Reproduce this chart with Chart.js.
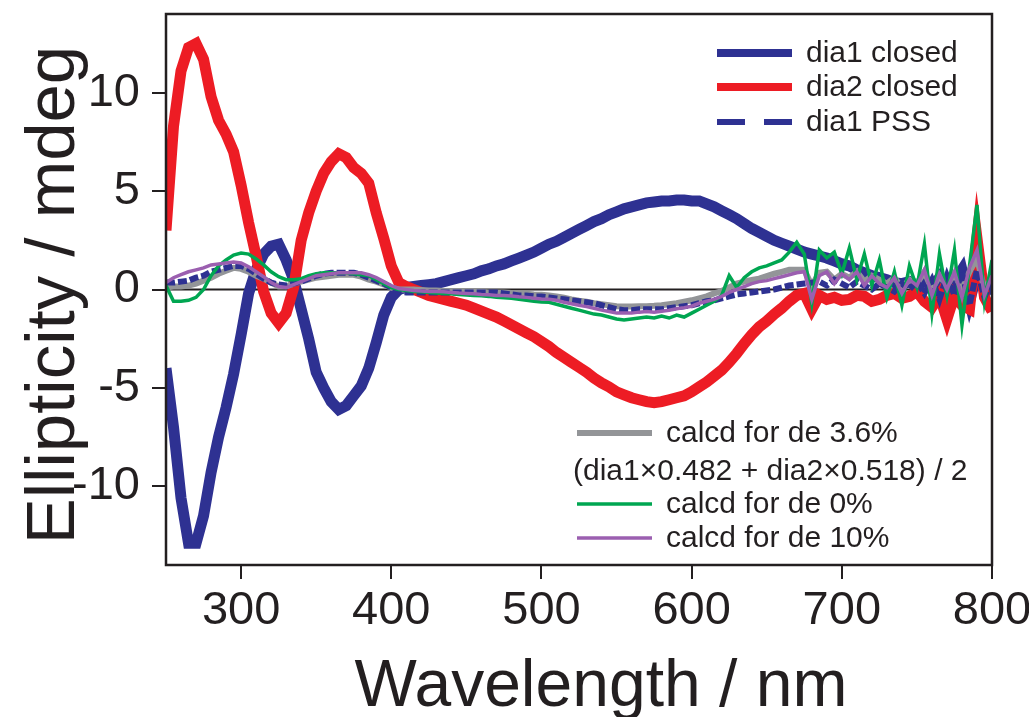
<!DOCTYPE html>
<html lang="en">

<head>
    <meta charset="UTF-8">
    <title>CD spectra</title>
    <script src="https://cdn.jsdelivr.net/npm/chart.js"></script>
    <style>
        body { margin: 0; background: #ffffff; }
    </style>
</head>

<body>
    <canvas id="cdChart" width="1029" height="717"></canvas>

    <script>
        // wavelength grid (nm), 5 nm steps
        const wavelength = [
            250, 255, 260, 265, 270, 275, 280, 285, 290, 295,
            300, 305, 310, 315, 320, 325, 330, 335, 340, 345,
            350, 355, 360, 365, 370, 375, 380, 385, 390, 395,
            400, 405, 410, 415, 420, 425, 430, 435, 440, 445,
            450, 455, 460, 465, 470, 475, 480, 485, 490, 495,
            500, 505, 510, 515, 520, 525, 530, 535, 540, 545,
            550, 555, 560, 565, 570, 575, 580, 585, 590, 595,
            600, 605, 610, 615, 620, 625, 630, 635, 640, 645,
            650, 655, 660, 665, 670, 675, 680, 685, 690, 695,
            700, 705, 710, 715, 720, 725, 730, 735, 740, 745,
            750, 755, 760, 765, 770, 775, 780, 785, 790, 795,
            800
        ];

        // ellipticity (mdeg)
        const dia1Closed = [
            -4.0, -7.0, -10.6, -12.9, -12.9, -11.5, -9.3, -7.5, -6.0, -4.3,
            -2.3, -0.2, 1.0, 1.8, 2.2, 2.3, 1.5, 0.5, -1.0, -2.5,
            -4.2, -5.0, -5.7, -6.1, -5.9, -5.4, -4.9, -4.0, -2.7, -1.3,
            -0.4, 0.0, 0.1, 0.15, 0.2, 0.25, 0.3, 0.4, 0.5, 0.6,
            0.7, 0.8, 0.95, 1.05, 1.2, 1.3, 1.45, 1.6, 1.75, 1.9,
            2.1, 2.3, 2.45, 2.65, 2.85, 3.05, 3.25, 3.45, 3.6, 3.8,
            3.95, 4.1, 4.2, 4.3, 4.4, 4.45, 4.5, 4.5, 4.55, 4.55,
            4.5, 4.5, 4.35, 4.2, 4.0, 3.8, 3.6, 3.35, 3.1, 2.9,
            2.7, 2.5, 2.35, 2.2, 2.05, 1.9, 1.8, 1.7, 1.6, 1.45,
            1.3, 1.2, 1.0, 0.85, 0.7, 0.6, 0.5, 0.35, 0.3, 0.4,
            0.2, 0.5, 0.1, 0.6, -0.5, 0.4, 1.0, -0.6, 0.8, 0.2,
            -0.2
        ];
        const dia2Closed = [
            3.0, 8.3, 11.1, 12.3, 12.5, 11.7, 9.8, 8.6, 7.9, 7.0,
            5.3, 3.4, 1.7, -0.1, -1.2, -1.7, -1.2, 0.1, 2.5, 3.9,
            5.0, 5.9, 6.5, 6.9, 6.7, 6.2, 5.9, 5.4, 3.9, 2.6,
            1.2, 0.35, 0.15, 0.0, -0.15, -0.3, -0.4, -0.5, -0.6, -0.7,
            -0.8, -0.95, -1.1, -1.25, -1.4, -1.6, -1.8, -2.0, -2.2, -2.4,
            -2.65, -2.9, -3.2, -3.45, -3.7, -3.95, -4.2, -4.5, -4.75, -4.95,
            -5.2, -5.35, -5.5, -5.6, -5.7, -5.75, -5.7, -5.6, -5.5, -5.4,
            -5.2, -4.95, -4.7, -4.4, -4.1, -3.7, -3.25, -2.75, -2.3, -1.9,
            -1.6, -1.25, -0.95, -0.6, -0.3, -0.2, -1.0, -0.3, -0.5, -0.4,
            -0.55, -0.5, -0.3, -0.35, -0.6, -0.5, -0.3, -0.2, -0.45, -0.35,
            -0.1, -0.6, -0.9, -0.3, -1.5, -0.3, -0.8, -1.0, 2.6, -0.4,
            -1.1
        ];
        const dia1Pss = [
            0.35, 0.35, 0.4, 0.45, 0.6, 0.7, 0.9, 1.0, 1.1, 1.2,
            1.2, 1.05, 0.8, 0.55, 0.35, 0.25, 0.2, 0.3, 0.4, 0.55,
            0.7, 0.8, 0.85, 0.85, 0.85, 0.85, 0.75, 0.6, 0.45, 0.3,
            0.1, -0.1, -0.15, -0.15, -0.15, -0.15, -0.15, -0.15, -0.15, -0.15,
            -0.15, -0.15, -0.15, -0.15, -0.15, -0.2, -0.25, -0.3, -0.3, -0.35,
            -0.35, -0.4, -0.45, -0.5, -0.55, -0.6, -0.65, -0.7, -0.8, -0.9,
            -1.0, -1.05, -1.05, -1.0, -1.0, -1.0, -1.0, -0.95, -0.9, -0.85,
            -0.8, -0.7, -0.6, -0.55, -0.45, -0.35, -0.25, -0.2, -0.15, -0.1,
            -0.05, 0.0, 0.1, 0.2, 0.25, 0.3, 0.35, 0.4, 0.2, 0.5,
            0.3, 0.1, 0.4, 0.2, 0.0, 0.3, 0.1, -0.1, 0.3, 0.0,
            0.4, -0.2, 0.5, -0.5, 0.7, -0.3, 0.9, -0.8, 1.0, -0.4,
            0.6
        ];
        const calcdDe36 = [
            0.1, 0.15, 0.15, 0.2, 0.3, 0.45, 0.6, 0.8, 0.95, 1.1,
            1.05, 0.9, 0.7, 0.55, 0.35, 0.15, 0.15, 0.3, 0.4, 0.5,
            0.6, 0.65, 0.7, 0.75, 0.75, 0.75, 0.65, 0.5, 0.4, 0.25,
            0.1, 0.0, 0.0, 0.0, -0.02, -0.05, -0.05, -0.08, -0.1, -0.1,
            -0.1, -0.12, -0.12, -0.15, -0.15, -0.15, -0.18, -0.2, -0.22, -0.25,
            -0.27, -0.3, -0.35, -0.42, -0.5, -0.57, -0.62, -0.7, -0.75, -0.8,
            -0.85, -0.87, -0.87, -0.85, -0.85, -0.83, -0.8, -0.75, -0.7, -0.62,
            -0.55, -0.45, -0.35, -0.2, -0.08, 0.1, 0.3, 0.4, 0.48, 0.55,
            0.68, 0.8, 0.9, 1.0, 1.0, 1.0, 0.2, 0.85, 0.9, 0.5,
            0.8, 0.6, 0.9, 0.4, 0.7, 0.5, 0.3, 0.6, 0.1, 0.5,
            0.3, 0.9, 0.0, 0.7, 0.2, 0.8, 0.0, 0.9, 1.6, 0.0,
            0.6
        ];
        const calcdDe0 = [
            0.2, -0.6, -0.6, -0.55, -0.4, 0.0, 0.7, 1.2, 1.5, 1.75,
            1.85, 1.8, 1.55, 1.25, 0.9, 0.65, 0.5, 0.5, 0.55, 0.7,
            0.8, 0.85, 0.85, 0.85, 0.85, 0.8, 0.75, 0.7, 0.5, 0.3,
            0.1, 0.0, -0.05, -0.1, -0.12, -0.15, -0.18, -0.2, -0.22, -0.25,
            -0.28, -0.3, -0.32, -0.35, -0.4, -0.42, -0.45, -0.5, -0.55, -0.6,
            -0.63, -0.65, -0.75, -0.85, -0.95, -1.05, -1.15, -1.25, -1.3, -1.4,
            -1.5, -1.55, -1.5, -1.45, -1.4, -1.45, -1.35, -1.45, -1.3, -1.4,
            -1.2, -1.0, -0.8, -0.6, -0.3, 0.7, 0.1, 0.6, 0.9, 1.1,
            1.2, 1.35, 1.5, 1.9, 2.4, 1.8, -0.7, 2.0, 1.6, 1.9,
            0.8, 2.1, 0.5, 1.8, 0.2, 1.5, -0.4, 0.9, -0.8, 1.2,
            0.1, 2.3, -1.2, 1.8, -0.3, 2.0, -1.8, 1.2, 4.3, -0.6,
            1.5
        ];
        const calcdDe10 = [
            0.35, 0.6, 0.75, 0.9, 1.0, 1.1, 1.25, 1.3, 1.35, 1.4,
            1.35, 1.15, 0.9, 0.65, 0.35, 0.15, 0.1, 0.25, 0.4, 0.55,
            0.7, 0.75, 0.8, 0.85, 0.85, 0.85, 0.85, 0.75, 0.6, 0.4,
            0.2, 0.05, 0.0, -0.05, -0.08, -0.1, -0.1, -0.12, -0.15, -0.18,
            -0.2, -0.22, -0.25, -0.27, -0.3, -0.3, -0.33, -0.37, -0.4, -0.45,
            -0.48, -0.5, -0.55, -0.65, -0.72, -0.8, -0.87, -0.95, -1.05, -1.12,
            -1.2, -1.2, -1.2, -1.15, -1.12, -1.15, -1.1, -1.05, -0.98, -0.92,
            -0.85, -0.7, -0.6, -0.5, -0.35, -0.15, 0.0, 0.15, 0.3, 0.4,
            0.45, 0.55, 0.65, 0.75, 0.85, 0.9, -0.5, 0.7, 0.9, 0.3,
            0.8, 0.5, 0.9, 0.2, 0.7, 0.3, 0.1, 0.6, -0.2, 0.5,
            0.2, 1.0, -0.3, 0.8, 0.0, 0.9, -0.4, 1.1, 2.0, -0.3,
            0.7
        ];

        // axis ticks and texts
        const xTicks = [300, 400, 500, 600, 700, 800];
        const yTicks = [-10, -5, 0, 5, 10];
        const xTitle = 'Wavelength / nm';
        const yTitle = 'Ellipticity / mdeg';
        const mixNote = '(dia1\u00d70.482 + dia2\u00d70.518) / 2';

        const FONT = "'Liberation Sans', Arial, Helvetica, sans-serif";
        const INK = '#231f20';

        function toPoints(values) {
            return values.map(function (v, i) { return { x: wavelength[i], y: v }; });
        }

        function serie(label, values, color, width, order, dash) {
            return {
                label: label,
                data: toPoints(values),
                borderColor: color,
                backgroundColor: color,
                borderWidth: width,
                borderDash: dash || [],
                pointRadius: 0,
                tension: 0,
                fill: false,
                order: order
            };
        }

        const datasets = [
            serie('dia1 closed', dia1Closed, '#2e3192', 11, 6),
            serie('dia2 closed', dia2Closed, '#ed1c24', 11, 5),
            serie('dia1 PSS', dia1Pss, '#2e3192', 6, 3, [9, 3]),
            serie('calcd for de 3.6%', calcdDe36, '#939598', 6, 4),
            serie('calcd for de 0%', calcdDe0, '#00a651', 3.5, 2),
            serie('calcd for de 10%', calcdDe10, '#9b5fb0', 3.5, 1)
        ];

        // legend rows: dataset index, line y (positions only)
        const legendTop = { x1: 717, x2: 792, textX: 806, rows: [[0, 53], [1, 87], [2, 122]] };
        const legendBottom = { x1: 577, x2: 652, textX: 666, rows: [[3, 433], [4, 504], [5, 538]], noteX: 573, noteY: 472 };

        const framePlugin = {
            id: 'frame',
            beforeDatasetsDraw(chart) {
                // zero line behind the spectra
                const ctx = chart.ctx;
                const area = chart.chartArea;
                const y0 = chart.scales.y.getPixelForValue(0);
                ctx.save();
                ctx.strokeStyle = INK;
                ctx.lineWidth = 2;
                ctx.beginPath();
                ctx.moveTo(area.left, y0);
                ctx.lineTo(area.right, y0);
                ctx.stroke();
                ctx.restore();
            },
            afterDatasetsDraw(chart) {
                const ctx = chart.ctx;
                const a = chart.chartArea;
                ctx.save();
                ctx.strokeStyle = INK;
                ctx.lineWidth = 2.5;
                ctx.strokeRect(a.left, a.top, a.right - a.left, a.bottom - a.top);
                ctx.restore();
            },
            afterDraw(chart) {
                const ctx = chart.ctx;
                ctx.save();
                ctx.fillStyle = INK;

                // axis titles
                ctx.textAlign = 'center';
                ctx.textBaseline = 'alphabetic';
                ctx.font = '66px ' + FONT;
                ctx.fillText(xTitle, 601, 706);
                ctx.save();
                ctx.font = '69px ' + FONT;
                ctx.translate(74, 295);
                ctx.rotate(-Math.PI / 2);
                ctx.fillText(yTitle, 0, 0);
                ctx.restore();

                // legends
                ctx.font = '30px ' + FONT;
                ctx.textAlign = 'left';
                ctx.textBaseline = 'middle';
                [legendTop, legendBottom].forEach(function (lg) {
                    lg.rows.forEach(function (r) {
                        const ds = chart.data.datasets[r[0]];
                        ctx.save();
                        ctx.strokeStyle = ds.borderColor;
                        ctx.lineWidth = Math.min(ds.borderWidth, 8);
                        ctx.setLineDash(ds.borderDash.length ? [28, 19] : []);
                        ctx.beginPath();
                        ctx.moveTo(lg.x1, r[1]);
                        ctx.lineTo(lg.x2, r[1]);
                        ctx.stroke();
                        ctx.restore();
                        ctx.fillText(ds.label, lg.textX, r[1] + 1);
                    });
                });
                ctx.fillText(mixNote, legendBottom.noteX, legendBottom.noteY);
                ctx.restore();
            }
        };

        new Chart(document.getElementById('cdChart'), {
            type: 'line',
            data: { datasets: datasets },
            options: {
                responsive: false,
                animation: false,
                layout: { padding: { top: 14, right: 37, left: 0, bottom: 0 } },
                plugins: {
                    legend: { display: false },
                    tooltip: { enabled: false }
                },
                scales: {
                    x: {
                        type: 'linear',
                        min: 250,
                        max: 800,
                        afterBuildTicks(scale) {
                            scale.ticks = xTicks.map(function (v) { return { value: v }; });
                        },
                        ticks: {
                            font: { size: 47, family: FONT },
                            color: INK,
                            padding: 4,
                            maxRotation: 0,
                            autoSkip: false
                        },
                        grid: { drawOnChartArea: false, tickLength: 14, lineWidth: 2, color: INK },
                        border: { display: false },
                        afterFit(scale) {
                            scale.height = 152;
                            scale.paddingLeft = 0;
                            scale.paddingRight = 0;
                        }
                    },
                    y: {
                        type: 'linear',
                        min: -14,
                        max: 14,
                        afterBuildTicks(scale) {
                            scale.ticks = yTicks.map(function (v) { return { value: v }; });
                        },
                        ticks: {
                            font: { size: 47, family: FONT },
                            color: INK,
                            padding: 12
                        },
                        grid: { drawOnChartArea: false, tickLength: 14, lineWidth: 2, color: INK },
                        border: { display: false },
                        afterFit(scale) {
                            scale.width = 166;
                            scale.paddingTop = 0;
                            scale.paddingBottom = 0;
                        }
                    }
                }
            },
            plugins: [framePlugin]
        });
    </script>
</body>

</html>
